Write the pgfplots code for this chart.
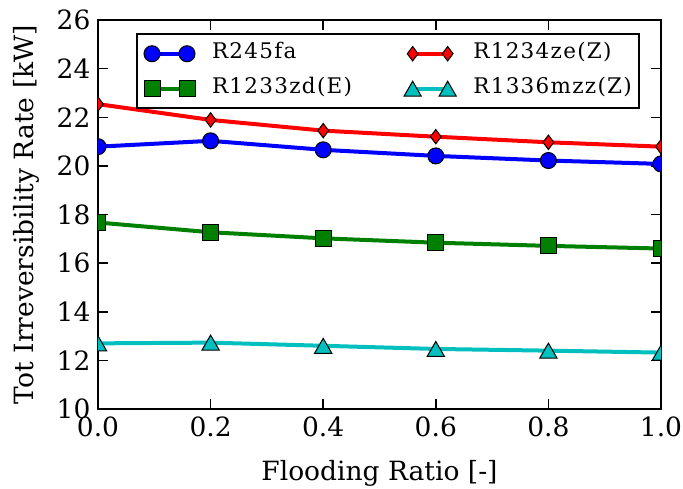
\documentclass[border=0pt]{standalone}
\usepackage{fontspec}
\setmainfont{DejaVu Serif}
\usepackage{pgfplots}
\pgfplotsset{compat=1.18}

\definecolor{mplblue}{rgb}{0,0,1}
\definecolor{mplgreen}{rgb}{0,0.5,0}
\definecolor{mplred}{rgb}{1,0,0}
\definecolor{mplcyan}{rgb}{0,0.75,0.75}

\begin{document}
\begin{tikzpicture}
\useasboundingbox (-98pt,-79pt) rectangle (585pt,409pt);
\begin{axis}[
  width=563pt, height=389pt, scale only axis,
  xmin=0, xmax=1, ymin=10, ymax=26,
  xtick={0,0.2,0.4,0.6,0.8,1.0}, ytick={10,12,...,26},
  x tick label style={/pgf/number format/fixed,
    /pgf/number format/fixed zerofill, /pgf/number format/precision=1,
    yshift=-4pt},
  y tick label style={xshift=-4pt},
  /pgf/number format/assume math mode=true,
  tick label style={font=\fontsize{26.5}{31}\selectfont},
  xlabel={Flooding Ratio [-]},
  ylabel={Tot Irreversibility Rate [kW]},
  every axis x label/.style={at={(axis description cs:0.5,0)},
    anchor=base, yshift=-71pt, font=\fontsize{26.5}{30}\selectfont},
  every axis y label/.style={at={(axis description cs:0,0.5)},
    xshift=-72pt, rotate=90, anchor=center,
    font=\fontsize{26.5}{30}\selectfont},
  axis line style={line width=2pt},
  tick style={line width=1.5pt, black},
  major tick length=10pt,
  tick align=inside,
  xtick pos=both, ytick pos=both,
  clip marker paths=true,
  every axis plot/.append style={line width=4pt},
  legend columns=2,
  legend cell align=left,
  legend style={
    at={(0.0675,0.9666)}, anchor=north west,
    draw=black, line width=2pt,
    font=\fontsize{21.5}{25}\selectfont\addfontfeature{LetterSpace=6},
    nodes={inner sep=0pt, text height=15.5pt, text depth=5pt},
    inner xsep=7pt, inner ysep=9.5pt,
    row sep=14.5pt,
    /tikz/every odd column/.append style={column sep=17pt},
    /tikz/column 2/.append style={text width=192pt},
  },
  legend image code/.code={
    \draw[#1] plot coordinates {(0pt,0pt) (35pt,0pt)};
  },
]
\addplot[color=mplblue, mark=*, mark size=8pt,
  mark options={fill=mplblue, draw=black, line width=1pt}]
  coordinates {(0,20.79) (0.2,21.03) (0.4,20.66) (0.6,20.41) (0.8,20.22) (1.0,20.08)};
\addlegendentry{R245fa}
\addplot[color=mplred, mark=diamond*, mark size=7.2pt,
  mark options={fill=mplred, draw=black, line width=1pt}]
  coordinates {(0,22.54) (0.2,21.89) (0.4,21.45) (0.6,21.20) (0.8,20.97) (1.0,20.79)};
\addlegendentry{R1234ze(Z)}
\addplot[color=mplgreen, mark=square*, mark size=8pt,
  mark options={fill=mplgreen, draw=black, line width=1pt}]
  coordinates {(0,17.67) (0.2,17.27) (0.4,17.02) (0.6,16.84) (0.8,16.71) (1.0,16.60)};
\addlegendentry{R1233zd(E)}
\addplot[color=mplcyan, mark=triangle*, mark size=10pt,
  mark options={fill=mplcyan, draw=black, line width=1pt, yshift=-2.5pt}]
  coordinates {(0,12.70) (0.2,12.73) (0.4,12.60) (0.6,12.47) (0.8,12.40) (1.0,12.32)};
\addlegendentry{R1336mzz(Z)}
\end{axis}
\end{tikzpicture}
\end{document}
